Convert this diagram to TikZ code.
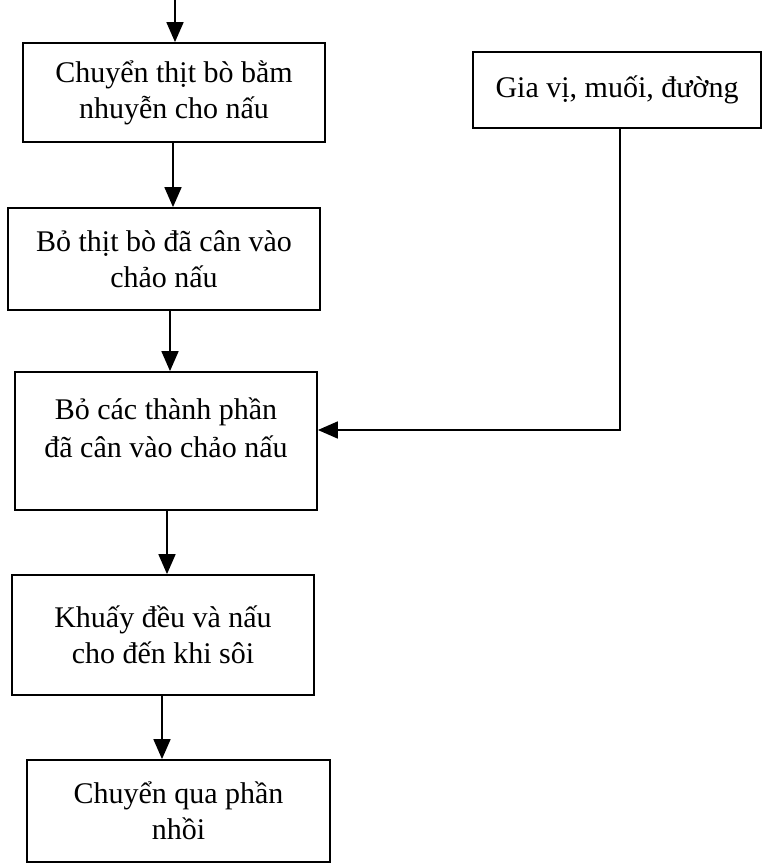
\documentclass[tikz,border=0pt]{standalone}
\usepackage{fontspec}
\setmainfont{Liberation Serif}
\usetikzlibrary{arrows.meta}
\begin{document}
\begin{tikzpicture}[x=1pt,y=1pt,
  box/.style={draw, line width=1.8pt, rectangle, inner sep=0pt, align=center,
    font=\fontsize{30}{36}\selectfont},
  arr/.style={line width=1.8pt, -{Triangle[length=20pt,width=17pt]}}]
\useasboundingbox (0,0) rectangle (763,-866);
\fill[white] (0,0) rectangle (763,-866);
\node[box, minimum width=302pt, minimum height=99pt] (b1) at (174,-92.5)
  {Chuyển thịt bò bằm\\nhuyễn cho nấu};
\node[box, minimum width=312pt, minimum height=102pt] (b2) at (164,-259)
  {Bỏ thịt bò đã cân vào\\chảo nấu};
\node[box, minimum width=302pt, minimum height=138pt] (b3) at (166,-441) {};
\node[align=center, font=\fontsize{30}{38}\selectfont] (t3) at (166,-428)
  {Bỏ các thành phần\\đã cân vào chảo nấu};
\node[box, minimum width=302pt, minimum height=120pt] (b4) at (163,-635)
  {Khuấy đều và nấu\\cho đến khi sôi};
\node[box, minimum width=303pt, minimum height=102pt] (b5) at (178.5,-811)
  {Chuyển qua phần\\nhồi};
\node[box, minimum width=288pt, minimum height=76pt] (g) at (617,-90)
  {Gia vị, muối, đường};
\coordinate (top) at (175,0);
\draw[arr] (top) -- (top |- b1.north);
\draw[arr] ([xshift=-1pt]b1.south) -- ([xshift=-1pt]b1.south |- b2.north);
\draw[arr] ([xshift=6pt]b2.south) -- ([xshift=6pt]b2.south |- b3.north);
\draw[arr] ([xshift=1pt]b3.south) -- ([xshift=1pt]b3.south |- b4.north);
\draw[arr] ([xshift=-1pt]b4.south) -- ([xshift=-1pt]b4.south |- b5.north);
\draw[arr] ([xshift=3pt]g.south) |- ([yshift=11pt]b3.east);
\end{tikzpicture}
\end{document}
